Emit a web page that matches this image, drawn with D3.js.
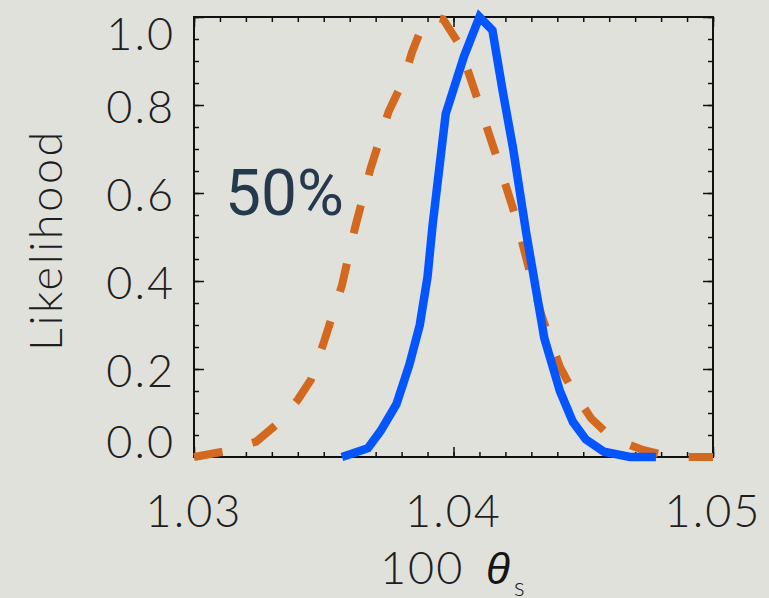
<!DOCTYPE html>
<html>
<head>
<meta charset="utf-8">
<script src="https://cdn.jsdelivr.net/npm/d3@7"></script>
<style>
  html, body { margin:0; padding:0; background:#e1e1dc; }
  svg { display:block; }
  .lbl { font-family: "Lato Light", Lato, "Roboto Light", Roboto, sans-serif; font-weight:300; fill:#1e1e1e; }
</style>
</head>
<body>
<div id="chart"></div>
<script>
// data
let blueTheta = [1.0357,1.0367,1.0372,1.0378,1.0383,1.0387,1.0390,1.0392,1.0397,1.0404,1.0410,1.0415,1.0419,1.0423,1.0428,1.0435,1.0441,1.0446,1.0451,1.0458,1.0468,1.0478]
let blueLike  = [0.0,0.02,0.06,0.12,0.21,0.30,0.41,0.53,0.78,0.91,1.0,0.97,0.83,0.70,0.51,0.27,0.15,0.08,0.04,0.012,0.0,0.0]
let orangeTheta = [1.0300,1.0311,1.0324,1.0332,1.0340,1.0345,1.0350,1.0357,1.0362,1.0368,1.0375,1.0381,1.0384,1.0388,1.0392,1.0396,1.0402,1.0410,1.0417,1.0424,1.0429,1.0434,1.0441,1.0446,1.0453,1.0461,1.0473,1.0484,1.0500]
let orangeLike  = [0.0,0.012,0.035,0.075,0.13,0.175,0.26,0.39,0.52,0.655,0.785,0.86,0.92,0.98,1.0,0.995,0.94,0.80,0.675,0.545,0.43,0.32,0.205,0.15,0.088,0.043,0.016,0.0,0.0]
let xTicks = [1.03,1.04,1.05]
let yTicks = [0,0.2,0.4,0.6,0.8,1.0]

let width = 769, height = 598,
    margin = { top:17, left:194, right:56, bottom:141 },
    innerWidth = width - margin.left - margin.right,
    innerHeight = height - margin.top - margin.bottom

let svg = d3.select("#chart").append("svg").attr("width",width).attr("height",height)
svg.append("rect").attr("width",width).attr("height",height).attr("fill","#e1e1dc")
let g = svg.append("g").attr("transform",`translate(${margin.left},${margin.top})`)

let xScale = d3.scaleLinear().domain([1.03,1.05]).range([0,innerWidth])
let yScale = d3.scaleLinear().domain([0,1]).range([innerHeight,0])

let xMinor = d3.range(1030,1051).map(d=>d/1000)
let yMinor = d3.range(0,21).map(d=>d/20)

// ticks on all four sides, pointing inward
function ticks(axis, values, size, tr){
  let a = g.append("g").attr("transform",tr)
    .call(axis.tickValues(values).tickSize(-size).tickFormat(""))
  a.select(".domain").remove()
  a.selectAll("line").attr("stroke","#111").attr("stroke-width",1.5)
  return a
}
ticks(d3.axisBottom(xScale), xMinor, 5, `translate(0,${innerHeight})`)
ticks(d3.axisBottom(xScale), xTicks, 10, `translate(0,${innerHeight})`)
ticks(d3.axisTop(xScale), xMinor, 5, "translate(0,0)")
ticks(d3.axisTop(xScale), xTicks, 10, "translate(0,0)")
ticks(d3.axisLeft(yScale), yMinor, 5, "translate(0,0)")
ticks(d3.axisLeft(yScale), yTicks, 10, "translate(0,0)")
ticks(d3.axisRight(yScale), yMinor, 5, `translate(${innerWidth},0)`)
ticks(d3.axisRight(yScale), yTicks, 10, `translate(${innerWidth},0)`)

g.append("rect").attr("width",innerWidth).attr("height",innerHeight)
  .attr("fill","none").attr("stroke","#111").attr("stroke-width",2)

// tick labels
g.selectAll(".xl").data(xTicks).enter().append("text")
  .attr("class","lbl").attr("text-anchor","middle")
  .attr("x",d=>xScale(d)).attr("y",innerHeight+70)
  .attr("font-size",45).attr("letter-spacing",2)
  .text(d=>d3.format(".2f")(d))

g.selectAll(".yl").data(yTicks).enter().append("text")
  .attr("class","lbl").attr("text-anchor","end")
  .attr("x",-19)
  .attr("y",function(d){
    if(d==1) return yScale(d)+33
    if(d==0) return yScale(d)+1
    return yScale(d)+18
  })
  .attr("font-size",45).attr("letter-spacing",2)
  .text(d=>d3.format(".1f")(d))

// axis titles
svg.append("text").attr("class","lbl")
  .attr("transform","translate(62,240) rotate(-90)")
  .attr("text-anchor","middle").attr("font-size",45).attr("letter-spacing",2.6)
  .text("Likelihood")

let xt = svg.append("text").attr("class","lbl").attr("x",380).attr("y",584).attr("font-size",45).attr("letter-spacing",2)
xt.append("tspan").text("100 ")
xt.append("tspan").attr("x",486).attr("font-family","'Liberation Sans', Arial, sans-serif").attr("font-style","italic")
  .attr("font-weight",400).attr("font-size",44).attr("letter-spacing",0).attr("fill","#151515").text("θ")
xt.append("tspan").attr("dx",4).attr("dy",12).attr("font-size",25).attr("letter-spacing",0).text("s")

// curves
let line = d3.line().x(d=>xScale(d[0])).y(d=>yScale(d[1]))
let orange = orangeTheta.map((t,i)=>[t,orangeLike[i]])
let blue = blueTheta.map((t,i)=>[t,blueLike[i]])

g.append("path").attr("d",line(orange))
  .attr("fill","none").attr("stroke","#d2691e").attr("stroke-width",8)
  .attr("stroke-dasharray","29,31")

g.append("path").attr("d",line(blue))
  .attr("fill","none").attr("stroke","#0355ff").attr("stroke-width",8.5)

svg.append("text").attr("x",225).attr("y",215)
  .attr("font-family","Roboto, 'Open Sans', sans-serif").attr("font-size",64)
  .attr("fill","#25394c").text("50%")
</script>
</body>
</html>
